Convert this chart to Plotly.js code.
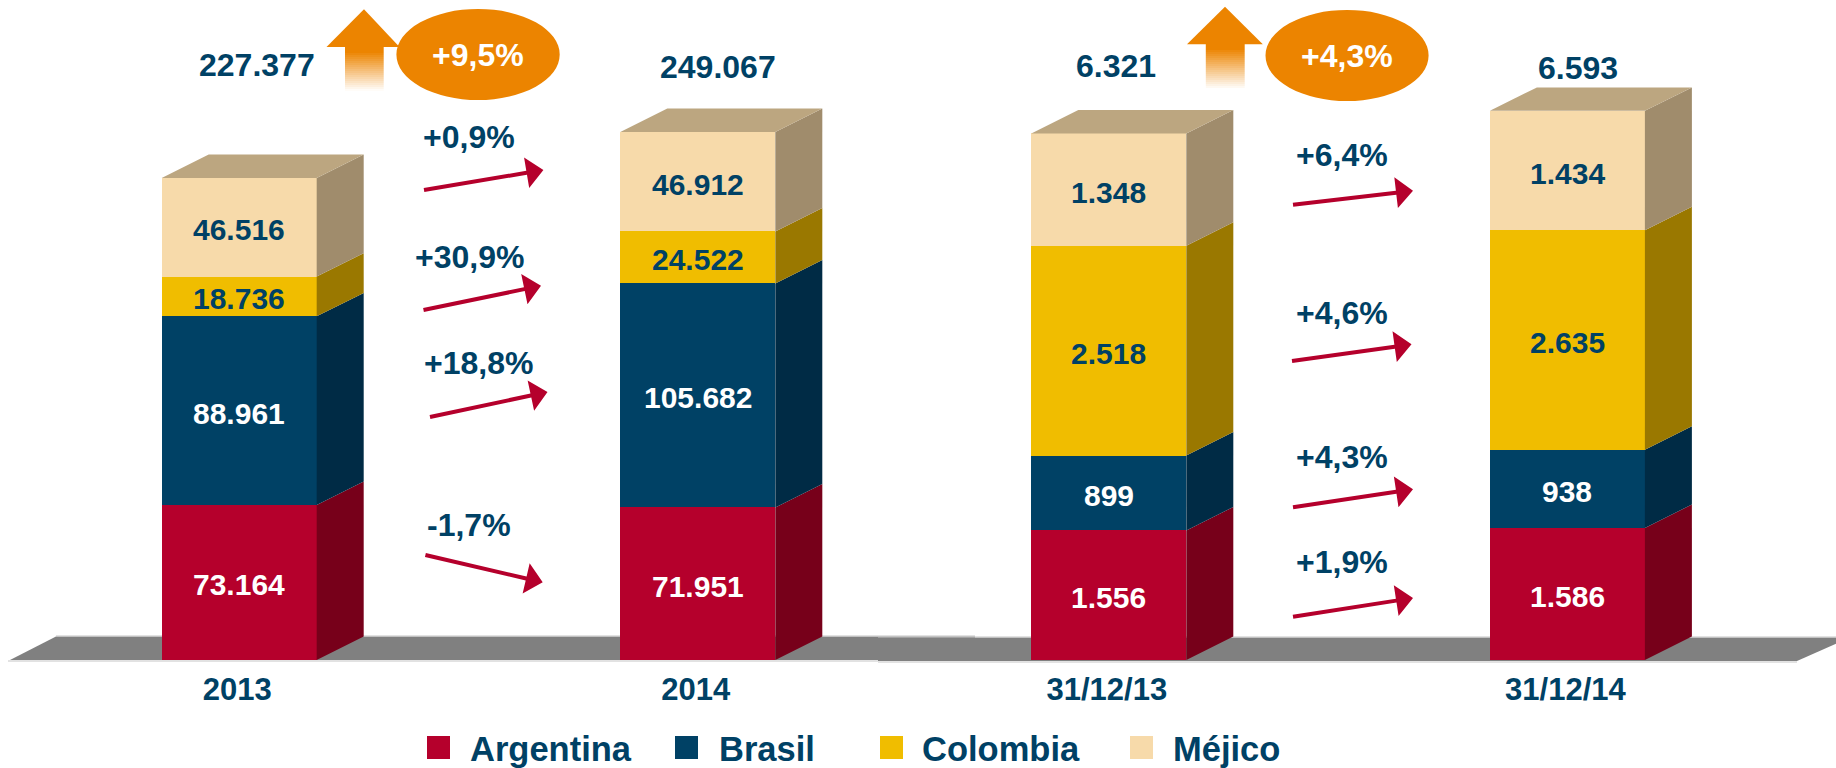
<!DOCTYPE html>
<html><head><meta charset="utf-8">
<script src="https://cdn.plot.ly/plotly-3.0.1.min.js"></script>
<style>html,body{margin:0;padding:0;background:#fff;overflow:hidden}</style>
</head><body><div id="chart" style="width:1836px;height:768px"></div>
<script>
// ---- data ----
const leftLabels  = ['2013','2014'];
const rightLabels = ['31/12/13','31/12/14'];
const seriesNames = ['Argentina','Brasil','Colombia','Méjico'];
const leftArgentina  = [73164, 71951];
const leftBrasil     = [88961, 105682];
const leftColombia   = [18736, 24522];
const leftMejico     = [46516, 46912];
const rightArgentina = [1556, 1586];
const rightBrasil    = [899, 938];
const rightColombia  = [2518, 2635];
const rightMejico    = [1348, 1434];
const leftTotals  = [227377, 249067];
const rightTotals = [6321, 6593];
const leftGrowth  = '+9,5%';
const rightGrowth = '+4,3%';
const leftChanges  = ['-1,7%','+18,8%','+30,9%','+0,9%'];
const rightChanges = ['+1,9%','+4,3%','+4,6%','+6,4%'];

// ---- style ----
const W = 1836, H = 768, BASE = 660;
const FONT = '"Liberation Sans", Arial, sans-serif';
const NAVY = '#004165', ORANGE = '#EC8400', RED = '#B5002C';
const FRONT = ['#B5002C','#004165','#F0BD00','#F7DAAA'];
const SIDE  = ['#77001A','#002B45','#9A7800','#A08C6C'];
const TOPC  = '#BCA680';
const LABELC = ['#ffffff','#ffffff',NAVY,NAVY];
const STEP = 458.6, BARPX = 155, DX = 47, DY = 23.4;
const scaleL = 0.00212, scaleR = 0.0833;
const barW = BARPX / STEP, depthX = DX / STEP;
const fmt = v => String(v).replace(/\B(?=(\d{3})+$)/g, '.');
const px = x => x / W, py = y => (BASE - y) / BASE;

const traces = [];
const annotations = [];
function group(seriesValues, xa, ya, scale) {
  const xs = [0, 1];
  seriesValues.forEach((vals, i) => traces.push({
    type:'bar', x:xs, y:vals, xaxis:xa, yaxis:ya, width:barW, name:seriesNames[i],
    marker:{color:FRONT[i], line:{width:0}},
    hoverinfo:'skip', showlegend:false
  }));
  const dy = DY / scale;
  xs.forEach((c, k) => {
    const r = c + barW / 2, l = c - barW / 2;
    let sum = 0;
    seriesValues.forEach((vals, i) => {
      const a = sum, b = sum + vals[k];
      sum = b;
      annotations.push({text:fmt(vals[k]), xref:xa, yref:ya, x:c, y:(a+b)/2, yshift:-2.5,
        xanchor:'center', yanchor:'middle', showarrow:false,
        font:{family:FONT, size:30, color:LABELC[i], weight:700}});
      traces.push({type:'scatter', mode:'lines', xaxis:xa, yaxis:ya, fill:'toself',
        x:[r, r+depthX, r+depthX, r, r],
        y:[a, a+dy, b+dy, b, a],
        fillcolor:SIDE[i], line:{width:0}, hoverinfo:'skip', showlegend:false});
    });
    traces.push({type:'scatter', mode:'lines', xaxis:xa, yaxis:ya, fill:'toself',
      x:[l, l+depthX, r+depthX, r, l],
      y:[sum, sum+dy, sum+dy, sum, sum],
      fillcolor:TOPC, line:{width:0}, hoverinfo:'skip', showlegend:false});
  });
}
group([leftArgentina,leftBrasil,leftColombia,leftMejico],'x','y',scaleL);
group([rightArgentina,rightBrasil,rightColombia,rightMejico],'x2','y2',scaleR);

// ---- decoration ----
const shapes = [];
const poly = (pts, color, layer) => shapes.push({type:'path', xref:'paper', yref:'paper', layer:layer||'above',
  path:'M'+pts.map(p=>px(p[0])+','+py(p[1])).join(' L')+' Z', fillcolor:color, line:{width:0}});

// floors
poly([[8,662],[975,662],[975,660],[8,660]],'#E2E2E2','below');
poly([[10,660],[56,636.5],[975,636.5],[975,660]],'#808080','below');
poly([[878,663],[1797,663],[1797,661],[878,661]],'#E2E2E2','below');
poly([[878,661],[878,637.5],[1850,637.5],[1797,661]],'#808080','below');
shapes.push({type:'line',xref:'paper',yref:'paper',layer:'below',x0:px(56),x1:px(975),y0:py(636),y1:py(636),line:{color:'#C4C4C4',width:1}});
shapes.push({type:'line',xref:'paper',yref:'paper',layer:'below',x0:px(878),x1:px(1836),y0:py(637),y1:py(637),line:{color:'#C4C4C4',width:1}});

// big up arrows with fading stem
function upArrow(tipX, tipY, baseY, hl, hr, sl, sr, botY) {
  const o=[236,132,0];
  const start = Math.round(baseY);
  for (let y=start; y<botY; y+=2) {
    const t = Math.min(1, Math.max(0,(y-start-4)/(botY-start-4)));
    const c = o.map(v=>Math.round(v+(255-v)*t));
    poly([[sl,y],[sr,y],[sr,y+2],[sl,y+2]],`rgb(${c})`);
  }
  poly([[tipX,tipY],[hr,baseY],[hl,baseY]],ORANGE);
}
upArrow(364,9.3,47,326.5,399.5,345,383.7,90);
upArrow(1225,6.7,44.3,1187,1262.8,1205.8,1244.7,88);

// ellipses
[[396.4,559.7,9,100],[1265.5,1428.6,10,101]].forEach(e=>shapes.push({type:'circle',xref:'paper',yref:'paper',
  x0:px(e[0]),x1:px(e[1]),y0:py(e[2]),y1:py(e[3]),fillcolor:ORANGE,line:{width:0}}));

// red arrows
function redArrow(s, t) {
  const d=Math.hypot(t[0]-s[0],t[1]-s[1]), u=[(t[0]-s[0])/d,(t[1]-s[1])/d], n=[-u[1],u[0]];
  const L=17, w=15.5, th=2;
  const b=[t[0]-u[0]*L,t[1]-u[1]*L];
  const off=(p,k)=>[p[0]+n[0]*k,p[1]+n[1]*k];
  poly([off(s,th),off(b,th),off(b,w),t,off(b,-w),off(b,-th),off(s,-th)],RED);
}
[[[425.4,555],[542.7,582.3]],[[430,417],[547.5,392]],[[423.5,310],[541,285.7]],[[424,190],[543.4,170]],
 [[1293,616.7],[1413,598]],[[1293,507.3],[1413,489.3]],[[1292,361],[1411.5,344.3]],[[1293,204.7],[1413,190.7]]]
 .forEach(a=>redArrow(a[0],a[1]));

// text
const label = (text,x,y,size,color) => annotations.push({text:String(text),xref:'paper',yref:'paper',x:px(x),y:py(y),
  xanchor:'center',yanchor:'middle',showarrow:false,font:{family:FONT,size:size,color:color,weight:700}});
label(fmt(leftTotals[0]),256.6,65,32,NAVY);
label(fmt(leftTotals[1]),718,66.7,32,NAVY);
label(fmt(rightTotals[0]),1116,66,32,NAVY);
label(fmt(rightTotals[1]),1578,68,32,NAVY);
label(leftGrowth,478,55,32,'#ffffff');
label(rightGrowth,1346.5,56,32,'#ffffff');
[[469,525],[478.6,363],[469,256.7],[469,137]].forEach((p,i)=>label(leftChanges[i],p[0],p[1],32,NAVY));
[[1342,562],[1342,457],[1342,312.7],[1342,155]].forEach((p,i)=>label(rightChanges[i],p[0],p[1],32,NAVY));

// legend
[[427,467.5],[675,717],[880,920],[1130,1170.5]].forEach((p,i)=>{
  poly([[p[0],736],[p[0]+23,736],[p[0]+23,759],[p[0],759]],FRONT[i]);
  annotations.push({text:seriesNames[i],xref:'paper',yref:'paper',x:px(p[1]),y:py(749),xanchor:'left',yanchor:'middle',
    showarrow:false,font:{family:FONT,size:34.5,color:NAVY,weight:700}});
});

const xBase = {type:'linear',showgrid:false,zeroline:false,showline:false,tickmode:'array',tickvals:[0,1],
  ticks:'outside',ticklen:2,tickcolor:'rgba(0,0,0,0)',ticklabelshift:-2,
  tickfont:{family:FONT,size:31,color:NAVY,weight:700},fixedrange:true};
const yBase = {visible:false,fixedrange:true,domain:[0,1]};
const layout = {
  width:W,height:H,margin:{l:0,r:0,t:0,b:H-BASE,pad:0},paper_bgcolor:'#fff',plot_bgcolor:'rgba(0,0,0,0)',
  barmode:'stack',showlegend:false,hovermode:false,
  xaxis:Object.assign({},xBase,{domain:[0,0.5],anchor:'y',ticktext:leftLabels,range:[-239.2/STEP,(918-239.2)/STEP]}),
  xaxis2:Object.assign({},xBase,{domain:[0.5,1],anchor:'y2',ticktext:rightLabels,range:[-(1108.8-918)/STEP,(1836-1108.8)/STEP]}),
  yaxis:Object.assign({},yBase,{anchor:'x',range:[0,BASE/scaleL]}),
  yaxis2:Object.assign({},yBase,{anchor:'x2',range:[0,BASE/scaleR]}),
  shapes:shapes,annotations:annotations
};
Plotly.newPlot('chart',traces,layout,{displayModeBar:false,responsive:false});
</script></body></html>
